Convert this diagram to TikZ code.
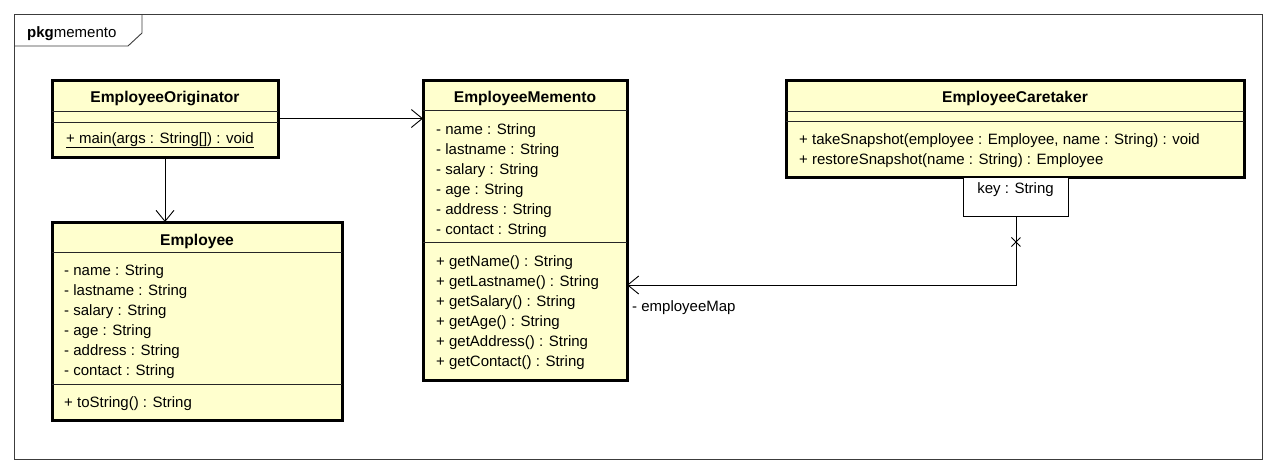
\documentclass[tikz,border=0pt]{standalone}
\usepackage{fontspec}
\setmainfont{Liberation Sans}
\usetikzlibrary{arrows.meta,calc}
\definecolor{umlfill}{RGB}{255,255,206}
\definecolor{frameline}{RGB}{60,60,60}
\begin{document}
\begin{tikzpicture}[x=1pt,y=-1pt,
  classbox/.style={draw=black, fill=umlfill, line width=3pt, rectangle, inner sep=0pt, outer sep=0pt, anchor=north west},
  keybox/.style={draw=black, fill=white, line width=0.9pt, rectangle, inner sep=0pt, anchor=north west},
  sepline/.style={draw=black!85, line width=0.9pt},
  framestyle/.style={draw=frameline, line width=0.9pt},
  txt/.style={anchor=base west, inner sep=0pt, font=\fontsize{15}{18}\selectfont},
  ttl/.style={anchor=base, inner sep=0pt, font=\fontsize{15.6}{18}\selectfont\bfseries},
  assoc/.style={draw=black, line width=0.9pt, -{Straight Barb[length=11pt,width=18pt]}}]
\useasboundingbox (0,0) rectangle (1276,472);
% package frame
\draw[framestyle] (14,14) rectangle (1262,459);
\draw[framestyle] (14,46) -- (128,46) -- (142,33) -- (142,14);
\node[txt] (pkglabel) at (27,37) {\textbf{pkg}memento};

% EmployeeOriginator
\node[classbox, minimum width=226pt, minimum height=77pt] (orig) at (52,80) {};
\draw[sepline] (orig.west |- 0,111) -- (orig.east |- 0,111);
\draw[sepline] (orig.west |- 0,122) -- (orig.east |- 0,122);
\node[ttl] (origT) at (165,102) {EmployeeOriginator};
\node[txt] (origM) at (66,143) {\underline{+ main(args : String[]) : void}};

% Employee
\node[classbox, minimum width=290pt, minimum height=198pt] (emp) at (52,222) {};
\draw[sepline] (emp.west |- 0,252) -- (emp.east |- 0,252);
\draw[sepline] (emp.west |- 0,384) -- (emp.east |- 0,384);
\node[ttl] (empT) at (197,245) {Employee};
\node[txt] (empA1) at (64,275) {- name : String};
\node[txt] (empA2) at (64,295) {- lastname : String};
\node[txt] (empA3) at (64,315) {- salary : String};
\node[txt] (empA4) at (64,335) {- age : String};
\node[txt] (empA5) at (64,355) {- address : String};
\node[txt] (empA6) at (64,375) {- contact : String};
\node[txt] (empM1) at (64,407) {+ toString() : String};

% EmployeeMemento
\node[classbox, minimum width=204pt, minimum height=300pt] (mem) at (423,80) {};
\draw[sepline] (mem.west |- 0,110) -- (mem.east |- 0,110);
\draw[sepline] (mem.west |- 0,242) -- (mem.east |- 0,242);
\node[ttl] (memT) at (525,102) {EmployeeMemento};
\node[txt] (memA1) at (436,134) {- name : String};
\node[txt] (memA2) at (436,154) {- lastname : String};
\node[txt] (memA3) at (436,174) {- salary : String};
\node[txt] (memA4) at (436,194) {- age : String};
\node[txt] (memA5) at (436,214) {- address : String};
\node[txt] (memA6) at (436,234) {- contact : String};
\node[txt] (memM1) at (436,266) {+ getName() : String};
\node[txt] (memM2) at (436,286) {+ getLastname() : String};
\node[txt] (memM3) at (436,306) {+ getSalary() : String};
\node[txt] (memM4) at (436,326) {+ getAge() : String};
\node[txt] (memM5) at (436,346) {+ getAddress() : String};
\node[txt] (memM6) at (436,366) {+ getContact() : String};

% EmployeeCaretaker
\node[classbox, minimum width=458pt, minimum height=97pt] (care) at (786,80) {};
\draw[sepline] (care.west |- 0,111) -- (care.east |- 0,111);
\draw[sepline] (care.west |- 0,121) -- (care.east |- 0,121);
\node[ttl] (careT) at (1015,102) {EmployeeCaretaker};
\node[txt] (careM1) at (799,144) {+ takeSnapshot(employee : Employee, name : String) : void};
\node[txt] (careM2) at (799,164) {+ restoreSnapshot(name : String) : Employee};

% qualifier
\node[keybox, minimum width=105pt, minimum height=39pt] (key) at (963,177) {};
\node[txt, anchor=base] (keyT) at (1015.5,193) {key : String};

% connectors
\draw[assoc] (orig.east) -- (orig.east -| mem.west);
\draw[assoc] (orig.south) -- (orig.south |- emp.north);
\coordinate (bend) at (key.south |- 0,285);
\draw[assoc] (key.south) -- (bend) -- (bend -| mem.east);
\coordinate (xm) at (key.south |- 0,242);
\draw[line width=0.9pt] ($(xm)+(-4.5,-4.5)$) -- ($(xm)+(4.5,4.5)$);
\draw[line width=0.9pt] ($(xm)+(-4.5,4.5)$) -- ($(xm)+(4.5,-4.5)$);
\node[txt] (mapT) at (632,311) {- employeeMap};
\end{tikzpicture}
\end{document}
